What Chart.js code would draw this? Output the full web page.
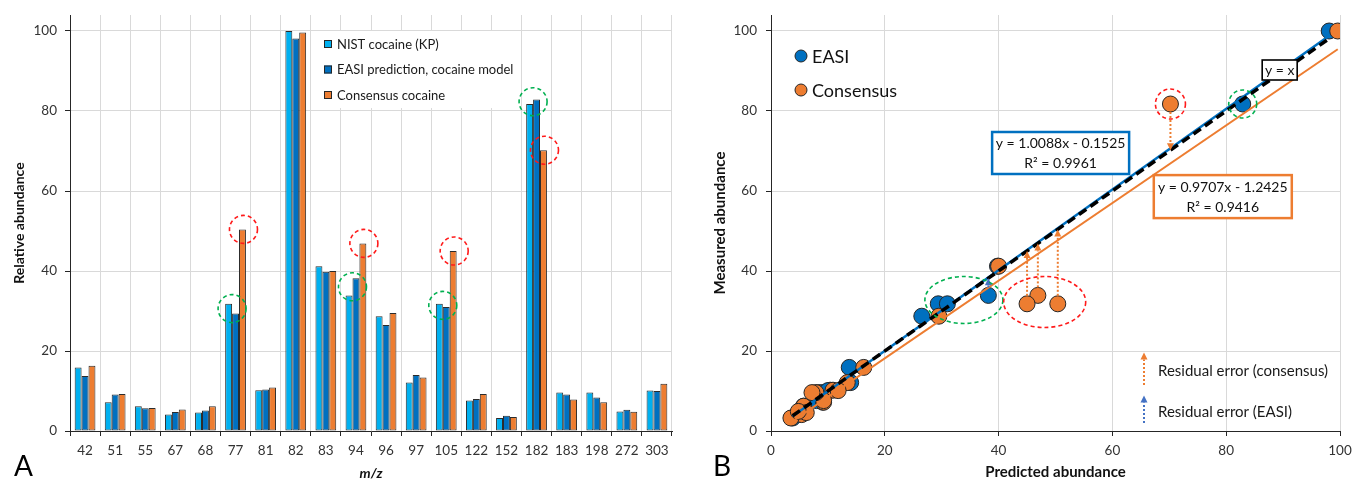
<!DOCTYPE html>
<html><head><meta charset="utf-8">
<script src="https://cdn.jsdelivr.net/npm/chart.js@4.4.1/dist/chart.umd.min.js"></script>
<style>
html,body{margin:0;padding:0;background:#fff;}
#wrap{position:relative;width:1352px;height:480px;overflow:hidden;background:#fff;}
#ca{position:absolute;left:0;top:0;}
#cb{position:absolute;left:680px;top:0;}
</style></head><body>
<div id="wrap"><canvas id="ca" width="680" height="480"></canvas><canvas id="cb" width="672" height="480"></canvas></div>
<script>
// ---------- data ----------
const mzLabels = ['42','51','55','67','68','77','81','82','83','94','96','97','105','122','152','182','183','198','272','303'];
const nistValues      = [15.9, 7.2, 6.2, 4.1, 4.6, 31.8, 10.2, 100, 41.2, 33.9, 28.7, 12.1, 31.8, 7.6, 3.25, 81.75, 9.6, 9.6, 4.9, 10.1];
const easiValues      = [13.75, 9.1, 5.7, 4.75, 5.1, 29.4, 10.4, 98.1, 39.8, 38.2, 26.5, 14.0, 31.0, 8.0, 3.8, 82.9, 9.1, 8.4, 5.3, 10.0];
const consensusValues = [16.3, 9.25, 5.75, 5.4, 6.2, 50.4, 10.9, 99.6, 40.0, 46.9, 29.5, 13.4, 45.0, 9.25, 3.5, 70.2, 7.9, 7.2, 4.8, 11.8];
const seriesNames = ['NIST cocaine (KP)', 'EASI prediction, cocaine model', 'Consensus cocaine'];
const scatterNames = ['EASI', 'Consensus'];
const axisTickValues = [0, 20, 40, 60, 80, 100];
const easiFit = {slope: 1.0088, intercept: -0.1525, r2: 0.9961};
const consFit = {slope: 0.9707, intercept: -1.2425, r2: 0.9416};
const flaggedMz = ['77', '94', '105', '182'];
const residualLabels = ['Residual error (consensus)', 'Residual error (EASI)'];

// ---------- styles ----------
const FONT = "Lato, 'Open Sans', sans-serif";
Chart.defaults.font.family = FONT;
Chart.defaults.color = '#333';
Chart.defaults.animation = false;
const C_NIST = '#00B0F0', C_EASI = '#0070C0', C_CONS = '#ED7D31';
const C_GREEN = '#00B050', C_RED = '#FF1A1A';
const gridColor = '#d9d9d9', axisColor = '#262626';

function keepTicks(s){ s.ticks = s.ticks.filter(t => axisTickValues.includes(t.value)); }
function fixW(w){ return s => { s.width = w; s.paddingTop = 0; s.paddingBottom = 0; }; }
function fixH(h){ return s => { s.height = h; s.paddingLeft = 0; s.paddingRight = 0; }; }

function dashedEllipse(ctx, cx, cy, rx, ry, color){
  ctx.save();
  ctx.strokeStyle = color; ctx.lineWidth = 1.6; ctx.setLineDash([4, 3]);
  ctx.beginPath(); ctx.ellipse(cx, cy, rx, ry, 0, 0, Math.PI * 2); ctx.stroke();
  ctx.restore();
}
function dottedArrow(ctx, x, y0, y1, color){
  const dir = y1 < y0 ? -1 : 1;
  const head = 7;
  ctx.save();
  ctx.strokeStyle = color; ctx.fillStyle = color; ctx.lineWidth = 2; ctx.setLineDash([2, 2]);
  ctx.beginPath(); ctx.moveTo(x, y0); ctx.lineTo(x, y1 - dir * head); ctx.stroke();
  ctx.setLineDash([]);
  ctx.beginPath(); ctx.moveTo(x, y1); ctx.lineTo(x - 3.5, y1 - dir * head); ctx.lineTo(x + 3.5, y1 - dir * head); ctx.closePath(); ctx.fill();
  ctx.restore();
}
function panelLetter(ctx, letter, x){
  ctx.save(); ctx.fillStyle = '#000'; ctx.font = '28px ' + FONT; ctx.textAlign = 'left'; ctx.textBaseline = 'alphabetic';
  ctx.fillText(letter, x, 476); ctx.restore();
}

// ---------- panel A ----------
const panelAPlugin = {
  id: 'panelA',
  afterDatasetsDraw(chart){
    const {ctx, chartArea: ca, scales: {y}} = chart;
    const m0 = chart.getDatasetMeta(0), m1 = chart.getDatasetMeta(1), m2 = chart.getDatasetMeta(2);
    flaggedMz.forEach(lbl => {
      const i = mzLabels.indexOf(lbl);
      const gx = (m0.data[i].x + m1.data[i].x) / 2;
      const gy = y.getPixelForValue((nistValues[i] + easiValues[i]) / 2);
      dashedEllipse(ctx, gx, gy, 14, 14, C_GREEN);
      dashedEllipse(ctx, m2.data[i].x + 1, y.getPixelForValue(consensusValues[i]), 14, 14, C_RED);
    });
    // legend
    const lx = ca.left + 243, ly = ca.top + 16;
    ctx.save();
    ctx.fillStyle = '#fff'; ctx.fillRect(lx, ly, 205, 77);
    const cols = [C_NIST, C_EASI, C_CONS];
    ctx.font = '13px ' + FONT; ctx.textBaseline = 'middle'; ctx.textAlign = 'left';
    seriesNames.forEach((n, k) => {
      const yy = ly + 13 + k * 25.5;
      ctx.fillStyle = cols[k]; ctx.fillRect(lx + 11, yy - 4, 8, 8);
      ctx.strokeStyle = axisColor; ctx.lineWidth = 1; ctx.strokeRect(lx + 11.5, yy - 3.5, 7, 7);
      ctx.fillStyle = '#1a1a1a'; ctx.fillText(n, lx + 24, yy + 0.5);
    });
    ctx.restore();
  },
  afterDraw(chart){ panelLetter(chart.ctx, 'A', 14); }
};

const barDs = (label, data, color) => ({
  label, data, backgroundColor: color, borderColor: '#2b2b2b', borderWidth: 1,
  borderSkipped: false, barPercentage: 1, categoryPercentage: 0.69
});

new Chart(document.getElementById('ca'), {
  type: 'bar',
  data: {
    labels: mzLabels,
    datasets: [barDs(seriesNames[0], nistValues, C_NIST), barDs(seriesNames[1], easiValues, C_EASI), barDs(seriesNames[2], consensusValues, C_CONS)]
  },
  options: {
    responsive: false, animation: false,
    layout: {padding: {left: 0, right: 8, top: 15, bottom: 0}},
    plugins: {legend: {display: false}, tooltip: {enabled: false}},
    scales: {
      x: {
        grid: {offset: true, color: gridColor, tickColor: axisColor, tickLength: 5},
        border: {color: axisColor, width: 1},
        ticks: {font: {size: 13.5}, color: '#333', padding: 7, maxRotation: 0, autoSkip: false},
        title: {display: true, text: 'm/z', font: {size: 14, weight: 'bold', style: 'italic'}, color: '#111', padding: {top: 0, bottom: -2}},
        afterFit: fixH(49)
      },
      y: {
        min: 0, max: 104,
        grid: {color: gridColor, tickColor: axisColor, tickLength: 5},
        border: {color: axisColor, width: 1},
        ticks: {stepSize: 20, font: {size: 13.5}, color: '#333', padding: 8},
        afterBuildTicks: keepTicks,
        title: {display: true, text: 'Relative abundance', font: {size: 14, weight: 'bold'}, color: '#111', padding: {top: 11, bottom: 0}},
        afterFit: fixW(70)
      }
    }
  },
  plugins: [panelAPlugin]
});

// ---------- panel B ----------
const easiPoints = mzLabels.map((_, i) => ({x: easiValues[i], y: nistValues[i]}));
const consPoints = mzLabels.map((_, i) => ({x: consensusValues[i], y: nistValues[i]}));
const eMin = Math.min(...easiValues), eMax = Math.max(...easiValues);
const cMin = Math.min(...consensusValues), cMax = Math.max(...consensusValues);
const fitLine = (f, a, b) => [a, b].map(x => ({x, y: f.slope * x + f.intercept}));
const identityLine = [{x: eMin, y: eMin}, {x: eMax, y: eMax}];
const fmtFit = f => 'y = ' + f.slope.toFixed(4) + 'x ' + (f.intercept < 0 ? '- ' : '+ ') + Math.abs(f.intercept).toFixed(4);

const panelBPlugin = {
  id: 'panelB',
  afterDatasetsDraw(chart){
    const {ctx, chartArea: ca, scales: {x, y}} = chart;
    const R = 8;
    // residual arrows
    flaggedMz.forEach(lbl => {
      const i = mzLabels.indexOf(lbl);
      const px = x.getPixelForValue(consensusValues[i]);
      const p0 = y.getPixelForValue(nistValues[i]), p1 = y.getPixelForValue(consensusValues[i]);
      const dir = p1 < p0 ? -1 : 1;
      dottedArrow(ctx, px, p0 + dir * R, p1, C_CONS);
      const ex = x.getPixelForValue(easiValues[i]);
      const e1 = y.getPixelForValue(easiValues[i]);
      if (Math.abs(e1 - p0) > R + 4) {
        const d2 = e1 < p0 ? -1 : 1;
        dottedArrow(ctx, ex, p0 + d2 * R, e1, '#4472C4');
      }
    });
    // ellipses
    const i182 = mzLabels.indexOf('182');
    dashedEllipse(ctx, x.getPixelForValue(33.9), y.getPixelForValue(32.75), 39, 23.5, C_GREEN);
    dashedEllipse(ctx, x.getPixelForValue(easiValues[i182]), y.getPixelForValue(nistValues[i182]), 14, 14, C_GREEN);
    dashedEllipse(ctx, x.getPixelForValue(consensusValues[i182]), y.getPixelForValue(nistValues[i182]), 15, 15, C_RED);
    dashedEllipse(ctx, x.getPixelForValue(48.1), y.getPixelForValue(32.25), 41, 25.5, C_RED);
    // equation boxes
    const boxes = [
      {lines: [fmtFit(easiFit), 'R\u00B2 = ' + easiFit.r2.toFixed(4)], cx: 50.9, cy: 69.5, w: 137, h: 42, color: C_EASI, lw: 2.5},
      {lines: [fmtFit(consFit), 'R\u00B2 = ' + consFit.r2.toFixed(4)], cx: 79.4, cy: 58.6, w: 138, h: 43, color: C_CONS, lw: 2.5},
      {lines: ['y = x'], cx: 89.4, cy: 90.25, w: 35, h: 20, color: '#000', lw: 1.6}
    ];
    ctx.save();
    ctx.font = '14px ' + FONT; ctx.textAlign = 'center'; ctx.textBaseline = 'middle';
    boxes.forEach(b => {
      const cx = x.getPixelForValue(b.cx), cy = y.getPixelForValue(b.cy);
      ctx.fillStyle = '#fff'; ctx.fillRect(cx - b.w / 2, cy - b.h / 2, b.w, b.h);
      ctx.strokeStyle = b.color; ctx.lineWidth = b.lw; ctx.strokeRect(cx - b.w / 2, cy - b.h / 2, b.w, b.h);
      ctx.fillStyle = '#111';
      if (b.lines.length === 1) ctx.fillText(b.lines[0], cx, cy + 0.5);
      else { ctx.fillText(b.lines[0], cx, cy - 9.5); ctx.fillText(b.lines[1], cx, cy + 10.5); }
    });
    ctx.restore();
    // legend
    ctx.save();
    ctx.font = '18px ' + FONT; ctx.textAlign = 'left'; ctx.textBaseline = 'middle';
    [[C_EASI, scatterNames[0]], [C_CONS, scatterNames[1]]].forEach(([c, n], k) => {
      const cx = ca.left + 30, cy = ca.top + 41 + k * 34;
      ctx.beginPath(); ctx.arc(cx, cy, 6, 0, Math.PI * 2); ctx.fillStyle = c; ctx.fill();
      ctx.strokeStyle = axisColor; ctx.lineWidth = 1; ctx.stroke();
      ctx.fillStyle = '#111'; ctx.fillText(n, cx + 11, cy + 1);
    });
    ctx.restore();
    // residual legend
    const ax = ca.left + 373;
    dottedArrow(ctx, ax, ca.top + 370, ca.top + 337.5, C_CONS);
    dottedArrow(ctx, ax, ca.top + 408, ca.top + 380.5, '#4472C4');
    ctx.save();
    ctx.font = '15px ' + FONT; ctx.textAlign = 'left'; ctx.textBaseline = 'middle'; ctx.fillStyle = '#1a1a1a';
    ctx.fillText(residualLabels[0], ax + 14, ca.top + 356);
    ctx.fillText(residualLabels[1], ax + 14, ca.top + 397.5);
    ctx.restore();
  },
  afterDraw(chart){ panelLetter(chart.ctx, 'B', 33); }
};

new Chart(document.getElementById('cb'), {
  type: 'scatter',
  data: {
    datasets: [
      {label: 'y = x', data: identityLine, showLine: true, borderColor: '#000', borderWidth: 3.5, borderDash: [9, 5], pointRadius: 0, order: 0},
      {label: 'EASI fit', data: fitLine(easiFit, eMin, eMax), showLine: true, borderColor: C_EASI, borderWidth: 2.5, pointRadius: 0, order: 1},
      {label: 'Consensus fit', data: fitLine(consFit, cMin, cMax), showLine: true, borderColor: C_CONS, borderWidth: 2, pointRadius: 0, order: 1},
      {label: scatterNames[1], data: consPoints, pointRadius: 8, pointBackgroundColor: C_CONS, pointBorderColor: '#262626', pointBorderWidth: 1, order: 3},
      {label: scatterNames[0], data: easiPoints, pointRadius: 8, pointBackgroundColor: C_EASI, pointBorderColor: '#262626', pointBorderWidth: 1, order: 4}
    ]
  },
  options: {
    responsive: false, animation: false,
    layout: {padding: {left: 0, right: 12, top: 15, bottom: 0}},
    plugins: {legend: {display: false}, tooltip: {enabled: false}},
    scales: {
      x: {
        type: 'linear', min: 0, max: 100,
        grid: {color: gridColor, tickColor: axisColor, tickLength: 5},
        border: {color: axisColor, width: 1},
        ticks: {stepSize: 20, font: {size: 13.5}, color: '#333', padding: 7, maxRotation: 0},
        afterBuildTicks: keepTicks,
        title: {display: true, text: 'Predicted abundance', font: {size: 15, weight: 'bold'}, color: '#111', padding: {top: 0, bottom: -1}},
        afterFit: fixH(49)
      },
      y: {
        type: 'linear', min: 0, max: 104,
        grid: {color: gridColor, tickColor: axisColor, tickLength: 5},
        border: {color: axisColor, width: 1},
        ticks: {stepSize: 20, font: {size: 13.5}, color: '#333', padding: 9},
        afterBuildTicks: keepTicks,
        title: {display: true, text: 'Measured abundance', font: {size: 15, weight: 'bold'}, color: '#111', padding: {top: 31, bottom: 0}},
        afterFit: fixW(91)
      }
    }
  },
  plugins: [panelBPlugin]
});
</script>
</body></html>
